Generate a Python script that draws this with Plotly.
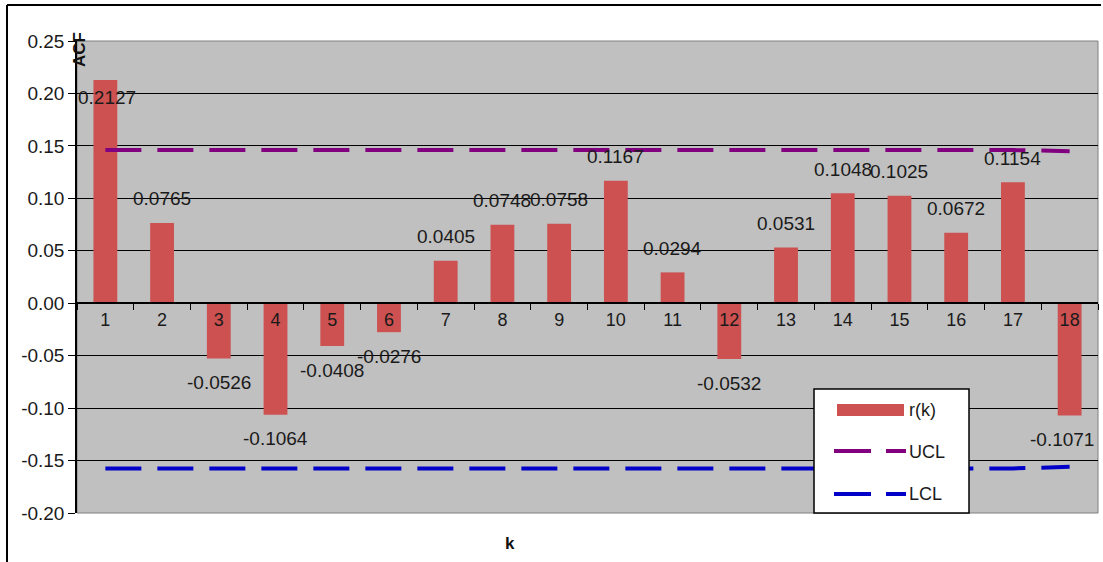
import plotly.graph_objects as go

# ---- data ----
lags = [str(k) for k in range(1, 19)]
acf = [0.2127, 0.0765, -0.0526, -0.1064, -0.0408, -0.0276, 0.0405, 0.0748, 0.0758,
       0.1167, 0.0294, -0.0532, 0.0531, 0.1048, 0.1025, 0.0672, 0.1154, -0.1071]
ucl = [0.146] * 17 + [0.145]
lcl = [-0.1575] * 17 + [-0.156]
y_ticks = [-0.20, -0.15, -0.10, -0.05, 0.00, 0.05, 0.10, 0.15, 0.20, 0.25]

# ---- geometry helpers (pixel -> paper) ----
W, H = 1103, 562
ML, MR, MT, MB = 77, 5, 41, 49
PW, PH = W - ML - MR, H - MT - MB


def px(x):
    return (x - ML) / PW


def py(y):
    return (H - MB - y) / PH


BAR = "#CC5150"
PURPLE = "#800080"
BLUE = "#0000C8"
FONT = "Liberation Sans, Arial, sans-serif"
DASH = "36px,16px"

fig = go.Figure()
fig.add_trace(go.Bar(x=lags, y=acf, marker=dict(color=BAR, line=dict(width=0)),
                     name="r(k)", showlegend=False))
fig.add_trace(go.Scatter(x=lags, y=ucl, mode="lines", name="UCL", showlegend=False,
                         line=dict(color=PURPLE, width=4, dash=DASH)))
fig.add_trace(go.Scatter(x=lags, y=lcl, mode="lines", name="LCL", showlegend=False,
                         line=dict(color=BLUE, width=4, dash=DASH)))

ymin, ymax = -0.20, 0.25
zero_pos = (0 - ymin) / (ymax - ymin)

annotations = []
# data labels (category index positions); a couple nudged like the original
label_nudge = {"1": (2, -17), "18": (-8, -24)}
for i, (k, v) in enumerate(zip(lags, acf)):
    dx, dy = label_nudge.get(k, (0, 24 if v > 0 else -24))
    annotations.append(dict(x=i, y=v, xref="x", yref="y", text=f"{v:.4f}", showarrow=False,
                            xanchor="center", yanchor="middle", xshift=dx, yshift=dy,
                            font=dict(family=FONT, size=19, color="#1a1a1a")))

# axis titles
annotations.append(dict(x=px(80), y=py(50), xref="paper", yref="paper", text="<b>ACF</b>",
                        textangle=-90, showarrow=False, xanchor="center", yanchor="middle",
                        font=dict(family=FONT, size=17, color="#111")))
annotations.append(dict(x=px(510), y=py(543), xref="paper", yref="paper", text="<b>k</b>",
                        showarrow=False, xanchor="center", yanchor="middle",
                        font=dict(family=FONT, size=17, color="#111")))

# legend (manual, Excel-like)
legend_items = [("r(k)", 410), ("UCL", 452), ("LCL", 494)]
for name, yy in legend_items:
    annotations.append(dict(x=px(907), y=py(yy), xref="paper", yref="paper", text=name,
                            xanchor="left", yanchor="middle", showarrow=False,
                            font=dict(family=FONT, size=18, color="#1a1a1a")))

shapes = [
    # plot-area border
    dict(type="rect", xref="paper", yref="paper", x0=0, x1=1, y0=0, y1=1,
         line=dict(color="#808080", width=1), layer="below"),
    # outer chart border (top and left)
    dict(type="line", xref="paper", yref="paper", x0=px(7), x1=px(1101), y0=py(5), y1=py(5),
         line=dict(color="black", width=2)),
    dict(type="line", xref="paper", yref="paper", x0=px(7), x1=px(7), y0=py(5), y1=py(565),
         line=dict(color="black", width=2)),
    # legend box
    dict(type="rect", xref="paper", yref="paper", x0=px(814), x1=px(969), y0=py(513), y1=py(389),
         fillcolor="white", line=dict(color="black", width=1.5)),
    dict(type="rect", xref="paper", yref="paper", x0=px(837), x1=px(904), y0=py(416), y1=py(404),
         fillcolor=BAR, line=dict(width=0)),
    dict(type="line", xref="paper", yref="paper", x0=px(834), x1=px(906), y0=py(451), y1=py(451),
         line=dict(color=PURPLE, width=4, dash="37px,15px")),
    dict(type="line", xref="paper", yref="paper", x0=px(834), x1=px(906), y0=py(494), y1=py(494),
         line=dict(color=BLUE, width=4, dash="37px,15px")),
]

fig.update_layout(
    width=W, height=H,
    margin=dict(l=ML, r=MR, t=MT, b=MB, pad=0),
    paper_bgcolor="white",
    plot_bgcolor="#C0C0C0",
    bargap=0.58,
    showlegend=False,
    font=dict(family=FONT, color="#1a1a1a"),
    xaxis=dict(type="category", anchor="free", position=zero_pos, showgrid=False,
               showline=True, linecolor="black", linewidth=1.5,
               ticks="outside", tickson="boundaries", ticklen=6, tickcolor="black",
               tickfont=dict(family=FONT, size=18, color="#1a1a1a"), zeroline=False,
               range=[-0.5, 17.5], fixedrange=True),
    yaxis=dict(range=[ymin, ymax], tickvals=y_ticks, ticktext=[f"{t:.2f}" for t in y_ticks],
               showgrid=True, gridcolor="black", gridwidth=1,
               zeroline=True, zerolinecolor="black", zerolinewidth=1.5,
               showline=True, linecolor="black", linewidth=1.5,
               ticks="outside", ticklen=7, tickcolor="black",
               tickfont=dict(family=FONT, size=19, color="#1a1a1a")),
    annotations=annotations,
    shapes=shapes,
)

fig.write_html("out.html")
